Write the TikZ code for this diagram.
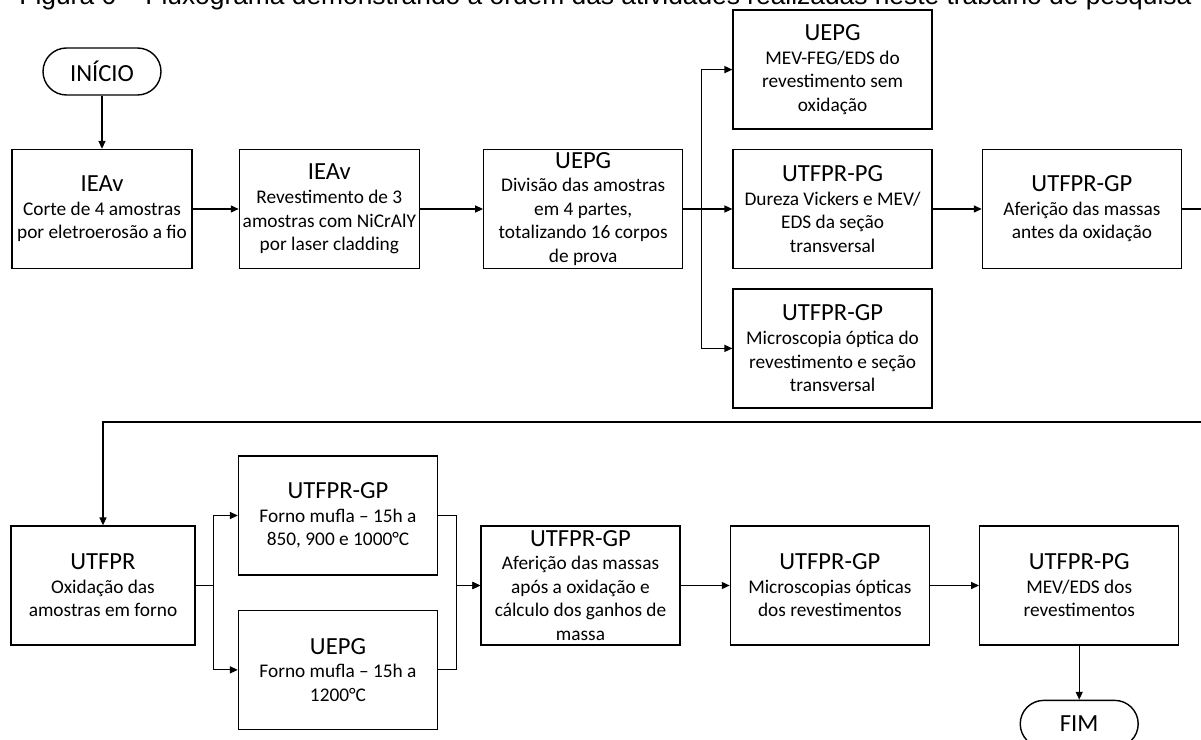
\documentclass[tikz,border=0pt]{standalone}
\usepackage{fontspec}
\setmainfont{Carlito}
\newfontfamily\captionfont{Liberation Sans}
\usetikzlibrary{arrows.meta, positioning}

\newcommand{\orgname}[1]{{\fontsize{14}{16}\selectfont #1}}

\begin{document}
\begin{tikzpicture}[
    x=0.02cm, y=-0.02cm, line width=0.7pt,
    >={Triangle[length=4.5pt, width=4pt]},
    box/.style={draw, line width=0.8pt, minimum width=3.98cm,
                minimum height=2.38cm, align=center, inner sep=1pt,
                font=\fontsize{11}{13.4}\selectfont},
    term/.style={draw, line width=0.8pt, rounded corners=0.47cm,
                 minimum width=2.36cm, minimum height=0.94cm,
                 font=\fontsize{14}{16}\selectfont}
  ]
  \path[use as bounding box, clip] (0,0) rectangle (1201,740);

  \node[anchor=base west, font=\captionfont\fontsize{15}{18}\selectfont]
    (titulo) at (13,5)
    {Figura 6 – Fluxograma demonstrando a ordem das atividades realizadas neste trabalho de pesquisa};

  \node[term] (inicio) at (102,71.5) {INÍCIO};
  \node[box, minimum width=3.6cm] (corte) at (102,209)
    {\orgname{IEAv}\\Corte de 4 amostras\\por eletroerosão a fio};
  \node[box, minimum width=3.6cm, right=0.92cm of corte] (revest)
    {\orgname{IEAv}\\Revestimento de 3\\amostras com NiCrAlY\\por laser cladding};
  \node[box, right=1.26cm of revest] (divisao)
    {\orgname{UEPG}\\Divisão das amostras\\em 4 partes,\\totalizando 16 corpos\\de prova};
  \node[box, right=0.98cm of divisao] (dureza)
    {\orgname{UTFPR-PG}\\Dureza Vickers e MEV/\\EDS da seção\\transversal};
  \node[box, above=0.38cm of dureza] (mevfeg)
    {\orgname{UEPG}\\MEV-FEG/EDS do\\revestimento sem\\oxidação};
  \node[box, below=0.38cm of dureza] (optica)
    {\orgname{UTFPR-GP}\\Microscopia óptica do\\revestimento e seção\\transversal};
  \node[box, right=0.98cm of dureza] (massa1)
    {\orgname{UTFPR-GP}\\Aferição das massas\\antes da oxidação};

  \node[box, minimum width=3.68cm] (oxid) at (103,585.5)
    {\orgname{UTFPR}\\Oxidação das\\amostras em forno};
  \node[box] (forno1) at (338,515.5)
    {\orgname{UTFPR-GP}\\Forno mufla – 15h a\\850, 900 e 1000°C};
  \node[box, below=0.68cm of forno1] (forno2)
    {\orgname{UEPG}\\Forno mufla – 15h a\\1200°C};
  \node[box] (massa2) at (580.5,585.5)
    {\orgname{UTFPR-GP}\\Aferição das massas\\após a oxidação e\\cálculo dos ganhos de\\massa};
  \node[box, right=0.98cm of massa2] (micro)
    {\orgname{UTFPR-GP}\\Microscopias ópticas\\dos revestimentos};
  \node[box, right=0.98cm of micro] (mevdos)
    {\orgname{UTFPR-PG}\\MEV/EDS dos\\revestimentos};
  \node[term, below=1.08cm of mevdos] (fim) {FIM};

  \draw[->] (inicio) -- (corte);
  \draw[->] (corte) -- (revest);
  \draw[->] (revest) -- (divisao);
  \draw[->] (divisao.east) -- ++(18,0) |- (mevfeg.west);
  \draw[->] (divisao) -- (dureza);
  \draw[->] (divisao.east) -- ++(18,0) |- (optica.west);
  \draw[->] (dureza) -- (massa1);

  \coordinate (volta) at (1230,422);
  \draw[->] (massa1.east) -| (volta) -| (oxid.north);

  \draw[->] (oxid.east) -- ++(18,0) |- (forno1.west);
  \draw[->] (oxid.east) -- ++(18,0) |- (forno2.west);
  \draw[->] (forno1.east) -- ++(18,0) |- (massa2.west);
  \draw[->] (forno2.east) -- ++(18,0) |- (massa2.west);
  \draw[->] (massa2) -- (micro);
  \draw[->] (micro) -- (mevdos);
  \draw[->] (mevdos) -- (fim);
\end{tikzpicture}
\end{document}
